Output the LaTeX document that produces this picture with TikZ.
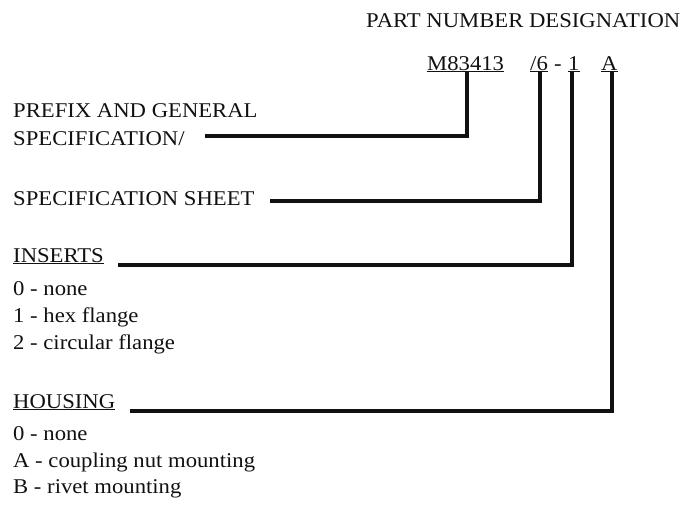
\documentclass[tikz,border=0pt]{standalone}
\usepackage{fontspec}
\setmainfont[FakeStretch=1.08]{Liberation Serif}
\usepackage{tikz}
\usetikzlibrary{positioning}
\definecolor{inkblack}{HTML}{111111}

\begin{document}
\begin{tikzpicture}[x=1pt, y=-1pt,
	lbl/.style={anchor=base west, inner sep=0pt, text=inkblack, font=\fontsize{21}{25}\selectfont},
	link/.style={line width=4pt, draw=inkblack}]
	\useasboundingbox (0,0) rectangle (685,504);
	% part number
	\node[lbl] (title) at (366,27) {PART NUMBER DESIGNATION};
	\node[lbl] (pre) at (427,70) {\underline{M83413}};
	\node[lbl] (sheet) at (530,70) {\underline{/6}};
	\node[lbl] (dash) at (554,70) {-};
	\node[lbl] (ins) at (568,70) {\underline{1}};
	\node[lbl] (hou) at (601,70) {\underline{A}};
	% labels on the left
	\node[lbl] (prefixa) at (13,117) {PREFIX AND GENERAL};
	\node[lbl] (prefixb) at (13,145) {SPECIFICATION/};
	\node[lbl] (spec) at (13,205) {SPECIFICATION SHEET};
	\node[lbl] (inserts) at (13,262) {\underline{INSERTS}};
	\node[lbl] (insa) at (13,295) {0 - none};
	\node[lbl] (insb) at (13,322) {1 - hex flange};
	\node[lbl] (insc) at (13,349) {2 - circular flange};
	\node[lbl] (housing) at (13,408) {\underline{HOUSING}};
	\node[lbl] (houa) at (13,440) {0 - none};
	\node[lbl] (houb) at (13,467) {A - coupling nut mounting};
	\node[lbl] (houc) at (13,493) {B - rivet mounting};
	% leaders
	\coordinate (prefixend) at (205,136);
	\coordinate (specend) at (270,201);
	\coordinate (insend) at (118,265);
	\coordinate (houend) at (130,411);
	\draw[link] (prefixend) -| ([xshift=1]pre.south);
	\draw[link] (specend) -| ([xshift=1]sheet.south);
	\draw[link] (insend) -| ([xshift=-2]ins.south);
	\draw[link] (houend) -| ([xshift=3]hou.south);
\end{tikzpicture}
\end{document}
